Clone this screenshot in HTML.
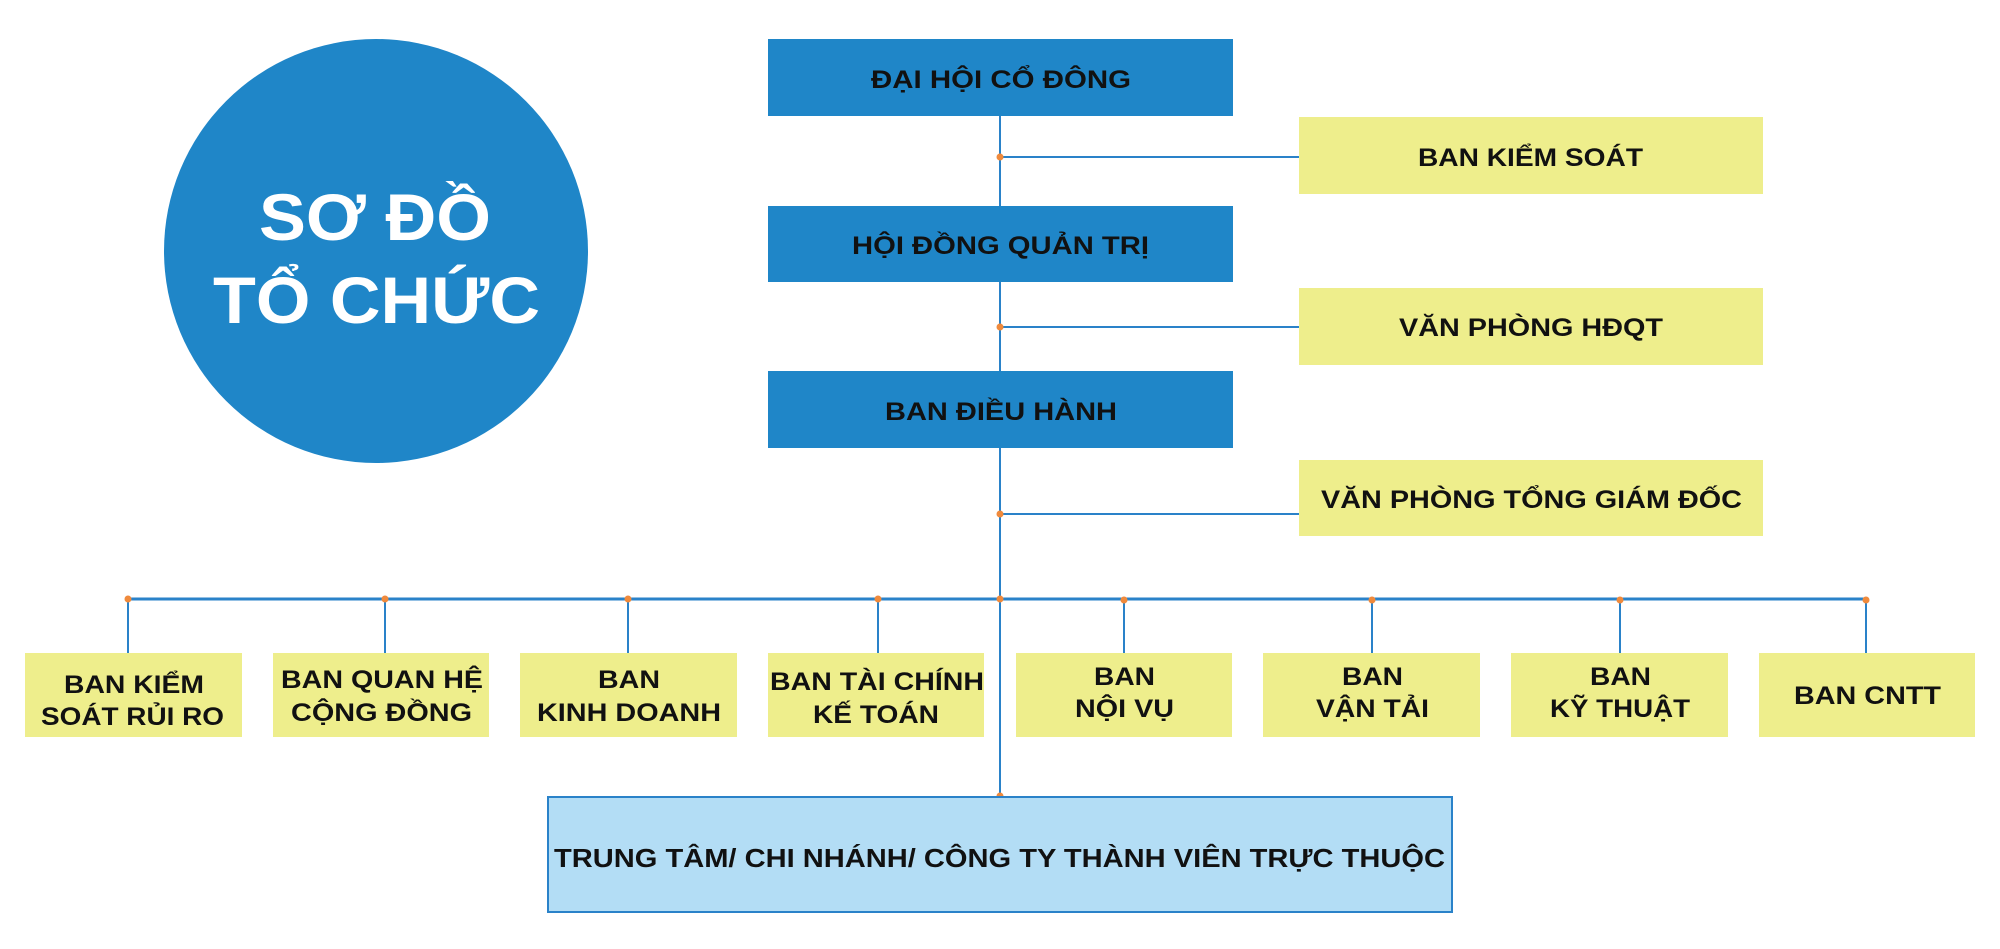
<!DOCTYPE html>
<html><head><meta charset="utf-8"><style>
html,body{margin:0;padding:0;background:#fff;}
svg{display:block;}
text{font-family:"Liberation Sans","DejaVu Sans",sans-serif;font-weight:bold;fill:#111;}
</style></head><body>
<svg width="2000" height="949" viewBox="0 0 2000 949" xmlns="http://www.w3.org/2000/svg">
<circle cx="376" cy="251" r="212" fill="#1f86c8"/>
<text x="259" y="240" font-size="66" style="fill:#fff" textLength="232" lengthAdjust="spacingAndGlyphs">SƠ ĐỒ</text>
<text x="213" y="323" font-size="66" style="fill:#fff" textLength="327" lengthAdjust="spacingAndGlyphs">TỔ CHỨC</text>

<g stroke="#2a82c9" stroke-width="2" fill="none">
<line x1="1000" y1="116" x2="1000" y2="796"/>
<line x1="1000" y1="157" x2="1299" y2="157"/>
<line x1="1000" y1="327" x2="1299" y2="327"/>
<line x1="1000" y1="514" x2="1299" y2="514"/>
<line x1="128" y1="599" x2="1866" y2="599" stroke-width="3"/>
<line x1="128" y1="599" x2="128" y2="653"/>
<line x1="385" y1="599" x2="385" y2="653"/>
<line x1="628" y1="599" x2="628" y2="653"/>
<line x1="878" y1="599" x2="878" y2="653"/>
<line x1="1124" y1="599" x2="1124" y2="653"/>
<line x1="1372" y1="599" x2="1372" y2="653"/>
<line x1="1620" y1="599" x2="1620" y2="653"/>
<line x1="1866" y1="599" x2="1866" y2="653"/>
</g>
<g fill="#f08a3c">
<circle cx="1000" cy="157" r="3.5"/><circle cx="1000" cy="327" r="3.5"/><circle cx="1000" cy="514" r="3.5"/>
<circle cx="128" cy="599" r="3.5"/><circle cx="385" cy="599" r="3.5"/><circle cx="628" cy="599" r="3.5"/><circle cx="878" cy="599" r="3.5"/><circle cx="1000" cy="599" r="3.5"/>
<circle cx="1124" cy="600" r="3.5"/><circle cx="1372" cy="600" r="3.5"/><circle cx="1620" cy="600" r="3.5"/><circle cx="1866" cy="600" r="3.5"/>
<circle cx="1000" cy="796" r="3.5"/>
</g>

<rect x="768" y="39" width="465" height="77" fill="#1f86c8"/>
<rect x="768" y="206" width="465" height="76" fill="#1f86c8"/>
<rect x="768" y="371" width="465" height="77" fill="#1f86c8"/>
<text x="871" y="88" font-size="25" textLength="260" lengthAdjust="spacingAndGlyphs">ĐẠI HỘI CỔ ĐÔNG</text>
<text x="852" y="254" font-size="25" textLength="297" lengthAdjust="spacingAndGlyphs">HỘI ĐỒNG QUẢN TRỊ</text>
<text x="885" y="420" font-size="25" textLength="232" lengthAdjust="spacingAndGlyphs">BAN ĐIỀU HÀNH</text>

<g fill="#eeee8c">
<rect x="1299" y="117" width="464" height="77"/>
<rect x="1299" y="288" width="464" height="77"/>
<rect x="1299" y="460" width="464" height="76"/>
<rect x="25" y="653" width="217" height="84"/>
<rect x="273" y="653" width="216" height="84"/>
<rect x="520" y="653" width="217" height="84"/>
<rect x="768" y="653" width="216" height="84"/>
<rect x="1016" y="653" width="216" height="84"/>
<rect x="1263" y="653" width="217" height="84"/>
<rect x="1511" y="653" width="217" height="84"/>
<rect x="1759" y="653" width="216" height="84"/>
</g>
<text x="1418" y="166" font-size="25" textLength="225" lengthAdjust="spacingAndGlyphs">BAN KIỂM SOÁT</text>
<text x="1399" y="336" font-size="25" textLength="264" lengthAdjust="spacingAndGlyphs">VĂN PHÒNG HĐQT</text>
<text x="1321" y="508" font-size="25" textLength="421" lengthAdjust="spacingAndGlyphs">VĂN PHÒNG TỔNG GIÁM ĐỐC</text>

<text x="64" y="693" font-size="25" textLength="140" lengthAdjust="spacingAndGlyphs">BAN KIỂM</text>
<text x="41" y="725" font-size="25" textLength="183" lengthAdjust="spacingAndGlyphs">SOÁT RỦI RO</text>
<text x="281" y="688" font-size="25" textLength="202" lengthAdjust="spacingAndGlyphs">BAN QUAN HỆ</text>
<text x="291" y="721" font-size="25" textLength="181" lengthAdjust="spacingAndGlyphs">CỘNG ĐỒNG</text>
<text x="598" y="688" font-size="25" textLength="62" lengthAdjust="spacingAndGlyphs">BAN</text>
<text x="537" y="721" font-size="25" textLength="184" lengthAdjust="spacingAndGlyphs">KINH DOANH</text>
<text x="770" y="690" font-size="25" textLength="214" lengthAdjust="spacingAndGlyphs">BAN TÀI CHÍNH</text>
<text x="813" y="723" font-size="25" textLength="126" lengthAdjust="spacingAndGlyphs">KẾ TOÁN</text>
<text x="1094" y="685" font-size="25" textLength="61" lengthAdjust="spacingAndGlyphs">BAN</text>
<text x="1075" y="717" font-size="25" textLength="99" lengthAdjust="spacingAndGlyphs">NỘI VỤ</text>
<text x="1342" y="685" font-size="25" textLength="61" lengthAdjust="spacingAndGlyphs">BAN</text>
<text x="1316" y="717" font-size="25" textLength="113" lengthAdjust="spacingAndGlyphs">VẬN TẢI</text>
<text x="1590" y="685" font-size="25" textLength="61" lengthAdjust="spacingAndGlyphs">BAN</text>
<text x="1550" y="717" font-size="25" textLength="140" lengthAdjust="spacingAndGlyphs">KỸ THUẬT</text>
<text x="1794" y="704" font-size="25" textLength="147" lengthAdjust="spacingAndGlyphs">BAN CNTT</text>

<rect x="548" y="797" width="904" height="115" fill="#b3ddf5" stroke="#2a82c9" stroke-width="2"/>
<text x="554" y="867" font-size="26" textLength="891" lengthAdjust="spacingAndGlyphs">TRUNG TÂM/ CHI NHÁNH/ CÔNG TY THÀNH VIÊN TRỰC THUỘC</text>
</svg>
</body></html>
